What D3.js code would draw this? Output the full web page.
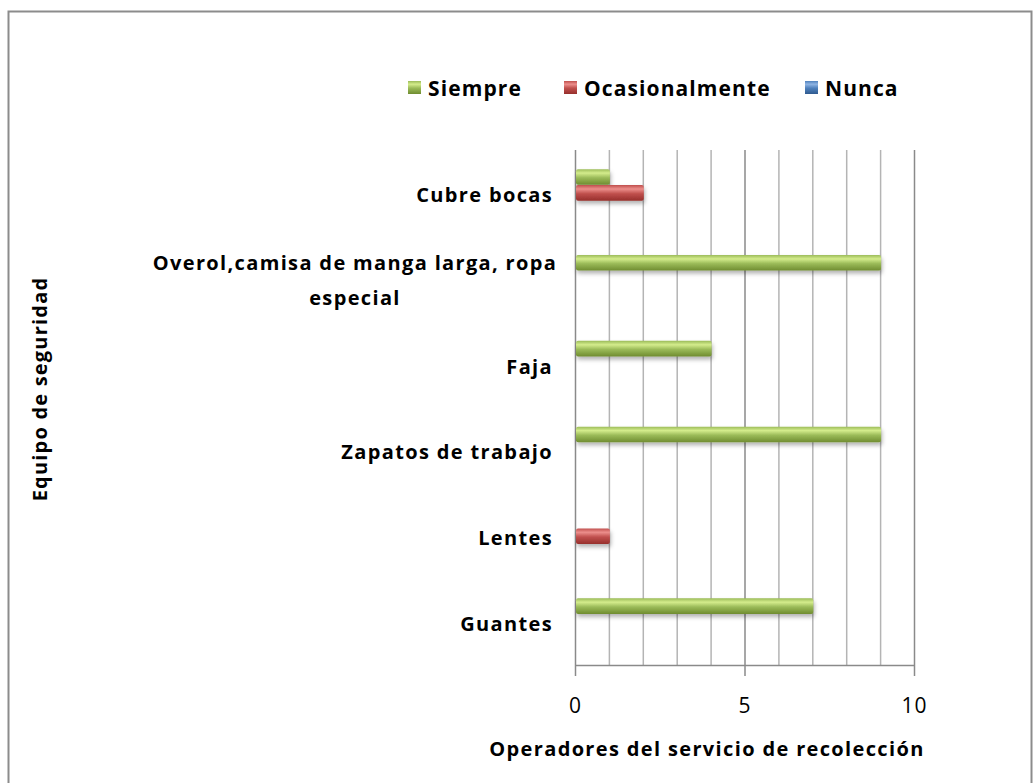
<!DOCTYPE html>
<html><head><meta charset="utf-8">
<script src="https://cdn.jsdelivr.net/npm/d3@7"></script>
<style>body{margin:0;background:#fff}svg{display:block}text{font-family:"Open Sans",sans-serif}</style>
</head><body>
<svg id="c" width="1034" height="783"></svg>
<script>
const categories = ["Cubre bocas","Overol,camisa de manga larga, ropa especial","Faja","Zapatos de trabajo","Lentes","Guantes"];
const seriesNames = ["Siempre","Ocasionalmente","Nunca"];
const siempre = [1,9,4,9,0,7];
const ocasionalmente = [2,0,0,0,1,0];
const nunca = [0,0,0,0,0,0];
const xTicks = [0,5,10];
const xTitle = "Operadores del servicio  de recolección";
const yTitle = "Equipo de seguridad";
const values = [siempre, ocasionalmente, nunca];
const colors = [
  {light:"#d4ec8c", mid:"#9bbb59", dark:"#6f8c30"},
  {light:"#ec8e8b", mid:"#c0504d", dark:"#962f2c"},
  {light:"#8fb4e3", mid:"#4f81bd", dark:"#2f5a8f"}
];

const svg = d3.select("#c");
const defs = svg.append("defs");
colors.forEach((c,i)=>{
  const g = defs.append("linearGradient").attr("id","g"+i).attr("x1",0).attr("y1",0).attr("x2",0).attr("y2",1);
  g.append("stop").attr("offset","0%").attr("stop-color",c.mid);
  g.append("stop").attr("offset","25%").attr("stop-color",c.light);
  g.append("stop").attr("offset","55%").attr("stop-color",c.mid);
  g.append("stop").attr("offset","100%").attr("stop-color",c.dark);
});
const f = defs.append("filter").attr("id","sh").attr("x","-10%").attr("y","-50%").attr("width","130%").attr("height","250%");
f.append("feDropShadow").attr("dx",1).attr("dy",3).attr("stdDeviation",2).attr("flood-color","#000").attr("flood-opacity",0.3);

// frame
svg.append("rect").attr("x",8.5).attr("y",11.5).attr("width",1023).attr("height",790)
  .attr("fill","none").attr("stroke","#8c8c8c").attr("stroke-width",2);

const x = d3.scaleLinear().domain([0,10]).range([575,914]);
const y = d3.scaleBand().domain(categories).range([150,665]);

// gridlines
const grid = svg.append("g");
grid.selectAll("line").data(d3.range(0,11)).join("line")
  .attr("x1",d=>x(d)+0.5).attr("x2",d=>x(d)+0.5).attr("y1",150).attr("y2",665)
  .attr("stroke",d=>d%5===0?"#8a8a8a":"#b4b4b4").attr("stroke-width",1.5);

// bars
const inner = d3.scaleBand().domain(seriesNames).range([0,y.bandwidth()]).paddingOuter(1.2).paddingInner(0.02);
const gb = svg.append("g");
seriesNames.forEach((s,si)=>{
  gb.append("g").selectAll("rect").data(categories.map((c,i)=>({c,v:values[si][i]})).filter(d=>d.v>0)).join("rect")
    .attr("x",x(0)+1).attr("y",d=>y(d.c)+inner(s))
    .attr("width",d=>x(d.v)-x(0)).attr("height",inner.bandwidth())
    .attr("rx",2).attr("fill","url(#g"+si+")").attr("filter","url(#sh)");
});

// x axis
const ax = svg.append("g").attr("transform","translate(0,665)")
  .call(d3.axisBottom(x).tickValues(xTicks).tickSize(11).tickPadding(22));
ax.select(".domain").attr("stroke","#8a8a8a").attr("stroke-width",1.5).attr("d","M575,0.5H914");
ax.selectAll(".tick line").attr("stroke","#8a8a8a").attr("stroke-width",1.5);
ax.selectAll(".tick text").attr("font-size",21).attr("fill","#000").style("font-family","Open Sans").style("letter-spacing","1px");

const FS = 20, LS = "1.35px";
// category labels
categories.forEach(c=>{
  const cy = y(c)+y.bandwidth()/2;
  if(c.startsWith("Overol")){
    const t = svg.append("text").attr("text-anchor","middle").attr("font-weight","bold").attr("font-size",FS).style("letter-spacing",LS);
    t.append("tspan").attr("x",355).attr("y",cy-9).text("Overol,camisa de manga larga, ropa");
    t.append("tspan").attr("x",355).attr("y",cy+26).text("especial");
  } else {
    svg.append("text").attr("x",553).attr("y",cy+9).attr("text-anchor","end")
      .attr("font-weight","bold").attr("font-size",FS).style("letter-spacing",LS).text(c);
  }
});

// axis titles
svg.append("text").attr("x",707).attr("y",756).attr("text-anchor","middle").attr("font-weight","bold").attr("font-size",FS).style("letter-spacing",LS).text(xTitle);
svg.append("text").attr("transform","translate(47,389) rotate(-90)").attr("text-anchor","middle").attr("font-weight","bold").attr("font-size",FS).style("letter-spacing","1.2px").text(yTitle);

// legend
const legX = [408,564,805];
seriesNames.forEach((s,i)=>{
  svg.append("rect").attr("x",legX[i]).attr("y",81).attr("width",13).attr("height",13).attr("fill","url(#g"+i+")");
  svg.append("text").attr("x",legX[i]+20).attr("y",96).attr("font-weight","bold").attr("font-size",21).style("letter-spacing","1.1px").text(s);
});
</script>
</body></html>
